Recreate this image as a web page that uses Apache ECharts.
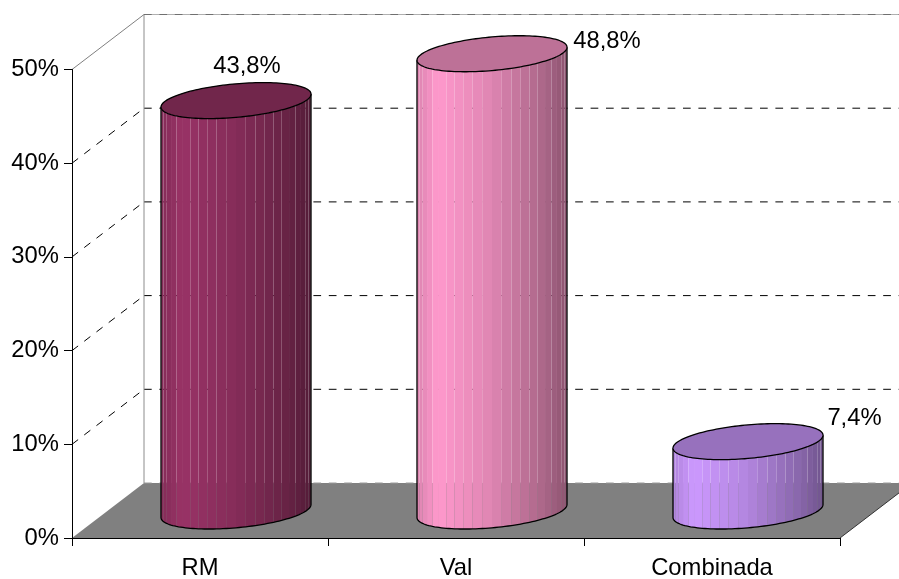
<!DOCTYPE html>
<html>
<head>
<meta charset="utf-8">
<style>html,body{margin:0;padding:0;background:#fff}#chart{width:899px;height:579px}</style>
<script src="https://cdn.jsdelivr.net/npm/echarts@6/dist/echarts.min.js"></script>
</head>
<body>
<div id="chart"></div>
<script>
// Share of respondents by region, drawn as Excel-style 3D cylinders.
const categories = ['RM', 'Val', 'Combinada'];
const values = [43.8, 48.8, 7.4];
const baseColors = ['#993366', '#ff99cc', '#cc99ff'];
const yTicks = [0, 10, 20, 30, 40, 50];

// Value-label placement relative to each cylinder's top centre.
const labelOffsets = [[11, -34.5], [115, -12.5], [106.5, -23.5]];

// Oblique projection of the chart box; cylinders stand mid-way along its depth.
const DEPTH_X = 72, DEPTH_Y = -55, MID_Y = -27;
const DASH = [7.7, 7.7];
const FONT = '23.8px "Liberation Sans", Arial, sans-serif';

// Lighting across the cylinder's width: [position -1..1, brightness].
const lightStops = [[-1, 0.86], [-0.72, 1], [0, 0.87], [0.72, 0.66], [1, 0.55]];

function shadeAt(u) {
  for (let i = 1; i < lightStops.length; i++) {
    const a = lightStops[i - 1], b = lightStops[i];
    if (u <= b[0]) return a[1] + (b[1] - a[1]) * (u - a[0]) / (b[0] - a[0]);
  }
  return lightStops[lightStops.length - 1][1];
}

function scaleColor(hex, k) {
  const n = parseInt(hex.slice(1), 16);
  const ch = s => Math.round(((n >> s) & 255) * k);
  return 'rgb(' + ch(16) + ',' + ch(8) + ',' + ch(0) + ')';
}

// Point on the tilted elliptical section of a cylinder.
function rim(cx, cy, rx, t) {
  const skew = rx * 0.0867, minor = rx * 0.224;
  return [cx + rx * Math.cos(t), cy - skew * Math.cos(t) + minor * Math.sin(t)];
}

function renderWall(params, api) {
  const cs = params.coordSys;
  const v = api.value(0);
  const y = api.coord([0, v])[1];
  const x0 = cs.x, x1 = cs.x + cs.width;
  const bx = x0 + DEPTH_X, by = y + DEPTH_Y, ex = x1 + DEPTH_X;
  const children = [];
  const line = (a, b, c, d, style) => children.push({
    type: 'line', shape: { x1: a, y1: b, x2: c, y2: d },
    style: Object.assign({ fill: null, lineWidth: 1 }, style)
  });
  const dash = { stroke: '#000', lineDash: DASH };
  if (v === 0) {
    children.push({
      type: 'polygon',
      shape: { points: [[x0, y], [x1, y], [ex, by], [bx, by]] },
      style: { fill: '#808080' }
    });
    line(x1, y, ex, by, { stroke: '#333' });
    line(bx, by, ex, by, { stroke: '#9a9a9a', lineDash: DASH });
  } else if (v === yTicks[yTicks.length - 1]) {
    line(x0, y, bx, by, { stroke: '#808080' });
    line(bx, by, bx, api.coord([0, 0])[1] + DEPTH_Y, { stroke: '#8c8c8c' });
    line(bx, by, ex, by, { stroke: '#b0b0b0' });
    line(bx, by, ex, by, { stroke: '#707070', lineDash: DASH });
  } else {
    line(x0, y, bx, by, dash);
    line(bx, by, ex, by, dash);
  }
  return { type: 'group', children: children };
}

function renderCylinder(params, api) {
  const i = params.dataIndex;
  const band = api.size([1, 0])[0];
  const rx = band * 0.293;
  const base = api.coord([i, 0]), head = api.coord([i, api.value(1)]);
  const cx = base[0] + DEPTH_X / 2;
  const yBottom = base[1] + MID_Y, yTop = head[1] + MID_Y;
  const color = baseColors[i];
  const children = [];

  // Side wall as flat facets; their seams let the backdrop show through faintly.
  const facets = 24;
  for (let k = 0; k < facets; k++) {
    const t0 = Math.PI * (1 - k / facets), t1 = Math.PI * (1 - (k + 1) / facets);
    const mid = (t0 + t1) / 2;
    children.push({
      type: 'polygon',
      shape: { points: [rim(cx, yTop, rx, t0), rim(cx, yTop, rx, t1), rim(cx, yBottom, rx, t1), rim(cx, yBottom, rx, t0)] },
      style: { fill: scaleColor(color, shadeAt(Math.cos(mid))) }
    });
  }

  // Silhouette of the side wall.
  const outline = [rim(cx, yTop, rx, Math.PI)];
  for (let k = 0; k <= 72; k++) outline.push(rim(cx, yBottom, rx, Math.PI * (1 - k / 72)));
  outline.push(rim(cx, yTop, rx, 0));
  children.push({ type: 'polyline', shape: { points: outline }, style: { fill: null, stroke: '#000', lineWidth: 1.3 } });

  // Top cap.
  const cap = [];
  for (let k = 0; k < 144; k++) cap.push(rim(cx, yTop, rx, Math.PI * 2 * k / 144));
  children.push({ type: 'polygon', shape: { points: cap }, style: { fill: scaleColor(color, 0.74), stroke: '#000', lineWidth: 1.3 } });

  // Value label.
  children.push({
    type: 'text',
    style: {
      text: String(api.value(1)).replace('.', ',') + '%',
      x: cx + labelOffsets[i][0], y: yTop + labelOffsets[i][1],
      fill: '#000', font: FONT, align: 'center', verticalAlign: 'middle'
    }
  });
  return { type: 'group', children: children };
}

const chart = echarts.init(document.getElementById('chart'), null, { renderer: 'canvas' });
chart.setOption({
  animation: false,
  backgroundColor: '#fff',
  grid: { left: 72, right: 59, top: 69.5, bottom: 41, outerBoundsMode: 'none' },
  xAxis: {
    type: 'category',
    data: categories,
    z: 6,
    axisLine: { lineStyle: { color: '#000', width: 1 } },
    axisTick: { show: true, length: 8, lineStyle: { color: '#000' } },
    axisLabel: { color: '#000', fontFamily: 'Liberation Sans', fontSize: 23.8, margin: 18 }
  },
  yAxis: {
    type: 'value',
    min: 0,
    max: 50,
    interval: 10,
    z: 6,
    axisLine: { show: true, lineStyle: { color: '#000', width: 1 } },
    axisTick: { show: true, length: 8, lineStyle: { color: '#000' } },
    axisLabel: { color: '#000', fontFamily: 'Liberation Sans', fontSize: 23.8, margin: 13, padding: [6, 0, 0, 0], formatter: '{value}%' },
    splitLine: { show: false }
  },
  series: [
    { type: 'custom', name: 'walls', z: 1, silent: true, data: yTicks.map(v => [v]), encode: { y: 0 }, renderItem: renderWall },
    { type: 'custom', name: 'cylinders', z: 2, silent: true, data: values.map((v, i) => [i, v]), encode: { x: 0, y: 1 }, renderItem: renderCylinder }
  ]
});
</script>
</body>
</html>
